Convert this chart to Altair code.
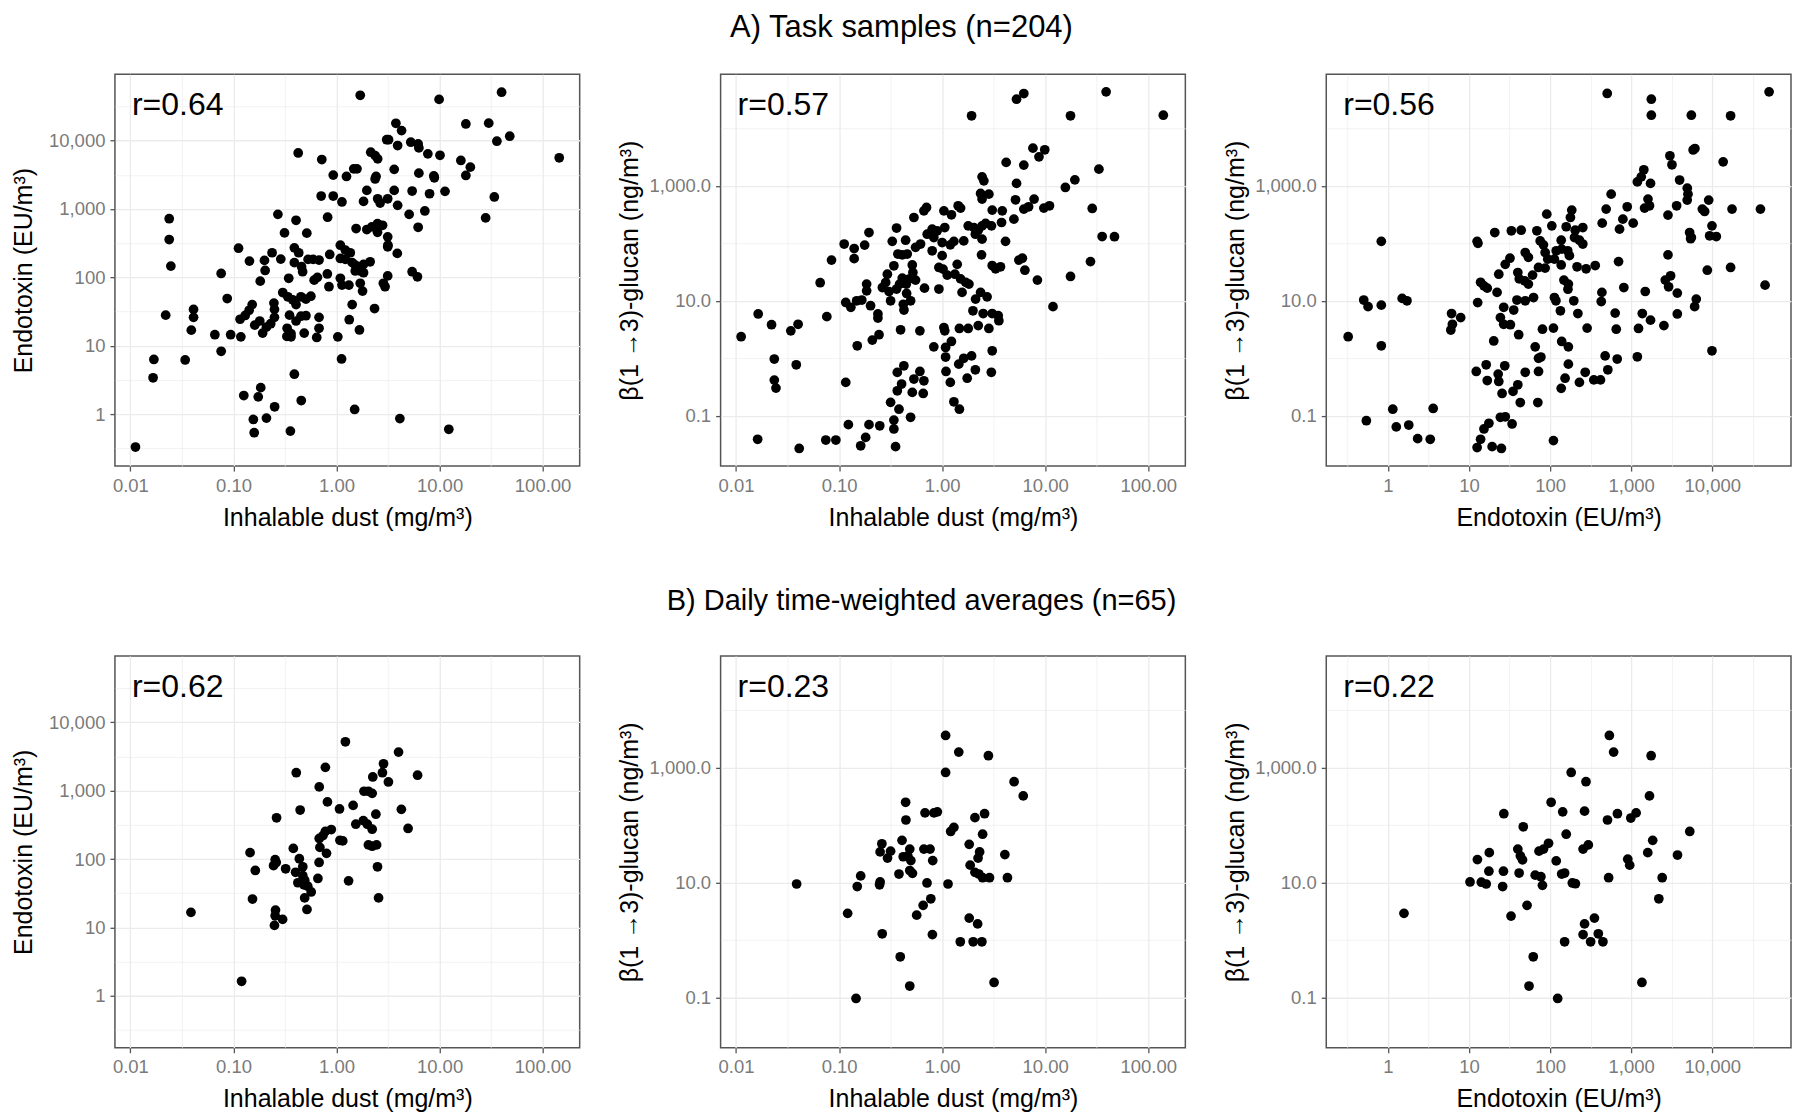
import altair as alt
import pandas as pd

# ---------------- A) Task samples (n=204) ----------------
# Panel A1: inhalable dust (x) vs endotoxin (y)
task_a1_dust = [
    1.70, 9.9, 40, 3.77, 4.28, 18, 30, 3.07, 3.2, 3.92,
    5.26, 6.2, 6.3, 48, 36, 7.7, 10.1, 2.15, 2.37, 2.51,
    145, 16.1, 19.9, 18, 1.25, 1.47, 1.58, 2.37, 2.42, 3.63,
    6.3, 8.8, 8.9, 34, 28, 1.97, 3.63, 5.42, 8.0, 11.3,
    1.13, 1.83, 2.51, 2.65, 3.14, 3.92, 5.07, 7.2, 6.2, 1.55,
    1.97, 2.2, 2.5, 2.8, 2.5, 3.14, 3.16, 3.14, 3.89, 1.09,
    1.22, 1.36, 1.09, 1.22, 1.42, 1.52, 1.64, 1.83, 2.12, 1.70,
    1.52, 1.83, 1.09, 1.13, 1.32, 1.70, 1.79, 2.85, 2.96, 3.14,
    1.42, 1.33, 1.67, 2.34, 1.12, 1.5, 4.12, 12.3, 5.42, 6.1,
    0.425, 0.72, 0.93, 0.71, 0.93, 0.82, 0.27, 0.405, 0.313, 0.515,
    0.112, 0.39, 0.43, 0.237, 0.288, 0.2, 0.143, 0.39, 0.458, 0.53,
    0.593, 0.677, 0.86, 0.203, 0.182, 0.076, 0.344, 0.469, 0.607, 0.653,
    0.815, 0.845, 0.301, 0.337, 0.376, 0.452, 0.505, 0.564, 0.405, 0.452,
    0.405, 0.505, 0.35, 0.332, 0.362, 0.33, 0.362, 0.486, 0.677, 0.677,
    0.643, 1.03, 0.116, 0.13, 0.142, 0.152, 0.118, 0.161, 0.18, 0.192,
    0.209, 0.23, 0.25, 0.25, 0.247, 0.066, 0.094, 0.087, 0.076, 0.034,
    0.039, 0.041, 0.041, 0.022, 0.0238, 0.0238, 0.0247, 0.0169, 0.0166, 0.0112,
    0.126, 0.174, 0.184, 0.156, 0.159, 0.209, 0.251, 0.357, 0.39, 0.455,
]
task_a1_endo = [
    46000, 40000, 51000, 17900, 14000, 17500, 18000, 10300, 10300, 8460,
    9460, 8950, 7820, 11600, 9800, 6400, 6100, 6760, 6030, 5410,
    5600, 5120, 4090, 3090, 2990, 3860, 3860, 2750, 2990, 3800,
    3340, 3050, 2860, 1500, 740, 1870, 1870, 1830, 1670, 1810,
    1265, 1290, 1410, 1220, 1410, 1130, 835, 935, 540, 518,
    500, 547, 610, 578, 455, 391, 295, 280, 224, 295,
    250, 229, 189, 183, 164, 151, 143, 155, 169, 124,
    124, 117, 97, 77, 77, 82, 63, 82, 73, 105,
    40, 24, 17, 35, 6.4, 1.17, 0.86, 0.6, 121, 102,
    6600, 5280, 3130, 1545, 1545, 757, 835, 684, 447, 443,
    267, 270, 229, 229, 185, 177, 173, 164, 143, 183,
    183, 179, 216, 126, 88, 114, 97, 121, 91, 100,
    112, 73, 60, 52, 47, 52, 48, 53, 40, 27,
    23, 27.5, 28, 18, 15, 13.7, 13.5, 15.3, 26, 18,
    13.2, 13.5, 24.4, 27.7, 33, 40, 13.5, 20, 23, 15.3,
    18.7, 21, 26, 34, 42, 14.5, 14.5, 49, 8.3, 6.2,
    16.9, 34, 26, 28, 720, 357, 146, 6.3, 3.4, 0.33,
    1.87, 1.79, 2.44, 0.835, 0.535, 0.875, 1.28, 0.565, 3.83, 1.58,
]

# Panel A2: inhalable dust (x) vs beta-glucan (y)
task_a2_dust = [
    0.0112, 0.0164, 0.0221, 0.0235, 0.0235, 0.0244, 0.034, 0.04, 0.0384, 0.0162,
    0.041, 0.0655, 0.076, 0.0844, 0.0743, 0.093, 0.116, 0.123, 0.112, 0.14,
    0.14, 0.177, 0.195, 0.116, 0.13, 0.148, 0.166, 0.185, 0.185, 0.202,
    0.238, 0.238, 0.15, 0.21, 0.244, 0.195, 0.181, 0.162, 0.248, 0.34,
    0.34, 0.353, 0.316, 0.381, 0.494, 0.367, 0.404, 0.425, 0.367, 0.532,
    0.608, 0.665, 0.513, 0.655, 0.395, 0.608, 0.83, 1.04, 1.08, 1.08,
    1.09, 0.532, 0.665, 0.705, 0.361, 0.328, 0.442, 0.372, 0.41, 0.458,
    0.552, 0.617, 0.716, 0.8, 0.83, 0.895, 1.04, 1.0, 0.34, 0.294,
    0.283, 0.263, 0.305, 0.316, 0.361, 0.386, 0.41, 0.449, 0.476, 0.52,
    0.552, 0.513, 0.452, 0.42, 0.426, 0.494, 0.674, 0.93, 0.93, 0.8,
    1.02, 1.12, 1.0, 1.06,
    1.93, 5.27, 6.2, 17.6, 39, 140, 7.6, 8.7, 9.9, 4.18,
    6.2, 33.2, 2.44, 2.54, 5.27, 15.7, 19.4, 2.36, 2.84, 2.44,
    5.15, 7.8, 6.2, 6.9, 9.7, 11, 28.6, 1.43, 1.51, 1.23,
    3.06, 3.83, 1.79, 2.03, 2.24, 2.44, 2.1, 2.64, 3.01, 3.77,
    2.44, 4.12, 4.97, 1.3, 1.62, 1.2, 1.4, 1.33, 1.51, 1.69,
    1.82, 1.56, 2.41, 3.06, 3.3, 3.68, 5.55, 6.0, 6.35, 8.4,
    17.6, 27.5, 35.7, 47, 11.9, 2.11, 2.36, 2.73, 1.99, 2.5,
    3.06, 3.5, 3.55, 2.84, 2.24, 1.79, 1.47, 1.06, 1.23, 1.62,
    1.93, 1.45, 2.1, 1.75, 3.06, 3.0, 1.2, 1.3, 1.47,
]
task_a2_glucan = [
    2.37, 5.9, 3.83, 0.97, 0.417, 0.303, 3.0, 3.9, 0.77, 0.039,
    0.027, 20.6, 5.3, 51, 0.0378, 0.0378, 0.38, 0.07, 97, 81,
    54, 93, 154, 9.35, 7.7, 10, 10.3, 14.9, 19.5, 8.2,
    5.9, 5.0, 1.65, 2.07, 2.57, 0.07, 0.042, 0.030, 0.067, 0.084,
    0.059, 0.029, 0.171, 0.13, 0.094, 0.272, 0.356, 0.74, 0.568, 0.435,
    0.59, 0.406, 0.255, 0.244, 3.13, 3.0, 1.58, 3.43, 1.54, 1.05,
    0.59, 281, 367, 420, 184, 108, 113, 65, 63, 65,
    85, 97, 144, 176, 126, 165, 367, 103, 40.6, 29,
    20.8, 17, 14.5, 10, 16, 19.5, 24.8, 19.5, 23.8, 31,
    22.9, 42, 13.4, 8.7, 6.9, 10, 16.6, 16, 38, 74,
    35.6, 28, 61, 188,
    16500, 32100, 40300, 16500, 43100, 16900, 4520, 3190, 4230, 2550,
    2290, 1950, 1430, 1220, 1100, 935, 1270, 735, 716, 587,
    571, 587, 393, 431, 409, 449, 404, 449, 409, 313,
    378, 367, 201, 188, 169, 201, 144, 221, 201, 230,
    118, 108, 263, 108, 110, 94, 43, 29, 24, 21,
    19.5, 14, 63, 41, 36, 39, 51, 55, 34, 22.9,
    26.5, 48, 131, 130, 7.9, 10.7, 14, 11.7, 6.7, 6.0,
    6.0, 5.5, 4.5, 3.3, 3.7, 3.3, 3.3, 3.0, 1.96, 1.0,
    1.1, 0.79, 0.63, 0.45, 1.35, 0.57, 0.38, 0.175, 0.13,
]

# Panel A3: endotoxin (x) vs beta-glucan (y)
task_a3_endo = [
    0.324, 0.504, 0.57, 0.83, 0.83, 0.83, 1.5, 1.72, 0.543, 1.15,
    1.27, 1.81, 2.33, 3.33, 3.62, 6.1, 6.25, 5.97, 7.9, 12.6,
    12.9, 12.8, 13.9, 15.3, 16.8, 20.8, 23.3, 22.2, 28, 32,
    33.3, 44, 49.4, 54, 40, 41.7, 48.5, 54, 60.8, 62.5,
    49.4, 39, 35.6, 26.8, 24.4, 26.8, 32.4, 20.2, 41, 65.5,
    72, 77, 72, 80.5, 110, 12.3, 16.3, 22.9, 23.3, 27.6,
    49.4, 16.8, 25.6, 34.9, 40, 42.9, 70.6, 24.4, 28, 34,
    17.6, 15.3, 13.9, 12.6, 19.3, 25.1, 110, 91, 105, 68.7,
    75.5, 82.8, 86.9, 93.6, 86.9, 72,
    506, 1770, 1770, 5510, 16800, 50100, 5800, 6100, 3000, 3180,
    13600, 1430, 1330, 1190, 1730, 3950, 4910, 5010, 4900, 1610,
    1460, 1680, 3630, 2840, 7530, 8040, 9020, 17500, 39200, 566,
    491, 439, 893, 789, 718, 1058, 5250, 5510, 5400, 9900,
    9270, 11200, 2840, 8670, 16800, 44700, 698, 811, 435, 427,
    1490, 2630, 3060, 2890, 3700, 6340, 6050, 3700, 2530, 1730,
    1370, 1230, 654, 634, 1190, 672, 515, 477, 9900, 271,
    230, 346, 418, 168, 153, 137, 139, 168, 286, 220,
    196, 134, 113, 118, 148, 168, 166, 278, 360, 215,
    137, 185, 178, 158, 204, 253, 200, 230, 253, 137,
    139, 165, 173, 119, 113,
]
task_a3_glucan = [
    2.37, 10.3, 7.9, 8.4, 108, 1.65, 11, 10, 0.082, 0.13,
    0.064, 0.069, 0.040, 0.039, 0.134, 6.0, 3.9, 3.1, 5.1, 108,
    100, 9.3, 21, 18.2, 16.6, 154, 29, 14, 43, 55,
    165, 169, 69, 57, 31, 24, 22.3, 19.5, 28, 11.4,
    10, 10.3, 6.9, 7.7, 5.1, 3.9, 3.83, 2.0, 2.57, 1.58,
    1.0, 1.05, 0.59, 3.2, 3.35, 0.59, 0.77, 0.53, 0.395, 0.74,
    0.57, 0.41, 0.244, 0.265, 0.346, 0.17, 0.17, 0.094, 0.096, 0.072,
    0.074, 0.059, 0.039, 0.028, 0.029, 0.027, 0.037, 321, 201, 165,
    110, 94, 69, 53, 37, 38,
    40400, 32100, 16900, 16900, 16500, 43100, 4200, 4450, 3330, 2320,
    2610, 1900, 1430, 1170, 1100, 1260, 910, 716, 564, 587,
    409, 449, 449, 309, 393, 358, 564, 393, 393, 716,
    393, 224, 431, 263, 176, 224, 154, 126, 120, 201,
    135, 131, 63, 34, 38, 18.7, 48, 17, 14, 9.7,
    14.5, 22.9, 27.2, 17.5, 13.6, 10.7, 7.9, 5.9, 3.7, 4.6,
    6.0, 3.3, 3.2, 6.1, 1.06, 0.97, 0.63, 1.1, 1.35, 0.57,
    0.38, 0.42, 0.42, 0.79, 0.45, 0.30, 1.96, 1.58, 3.35, 6.0,
    10, 6.7, 11.4, 10, 22.9, 19.5, 15.9, 36, 41, 39,
    42, 378, 281, 194, 169, 188, 126, 113, 97, 113,
    79, 74, 61, 74, 53,
]

# ---------------- B) Daily time-weighted averages (n=65) ----------------
daily_b1_dust = [
    1.22, 4.0, 2.86, 2.79, 6.12, 0.407, 0.78, 2.25, 3.19, 0.68,
    1.85, 2.04, 2.22, 0.817, 1.45, 1.07, 0.444, 4.26, 2.41, 0.262,
    1.82, 1.54, 1.99, 4.95, 2.22, 0.89, 0.78, 0.74, 0.68, 1.08,
    1.15, 2.04, 2.22, 2.45, 0.381, 0.69, 0.80, 0.145, 0.436, 0.471,
    0.254, 0.26, 0.245, 0.678, 0.163, 0.321, 0.401, 2.5, 0.422, 0.471,
    0.491, 0.483, 0.526, 0.568, 0.66, 1.31, 0.491, 0.517, 0.153, 2.56,
    0.256, 0.254, 0.25, 0.30, 0.0387, 0.12,
]
daily_b1_endo = [
    5180, 3660, 2470, 1830, 1680, 1830, 2190, 1585, 1340, 1135,
    980, 980, 914, 685, 608, 540, 521, 533, 452, 401,
    364, 323, 323, 280, 273, 270, 254, 220, 200, 188,
    184, 161, 154, 161, 143, 148, 121, 124, 101, 77,
    97.7, 89, 80, 89, 68, 72, 64, 77, 45, 57,
    49, 42, 40, 33, 52, 48, 27, 18.3, 26, 27,
    17.9, 14.8, 10.7, 13.1, 16.6, 1.63,
]

daily_b2_dust = [
    1.08, 1.45, 2.81, 1.08, 4.99, 6.12, 0.442, 0.682, 0.832, 0.898,
    2.58, 2.08, 0.445, 1.3, 1.21, 2.47, 0.26, 0.25, 0.316, 0.295,
    0.408, 0.485, 0.464, 0.419, 0.497, 0.665, 0.763, 0.81, 1.83, 2.31,
    2.23, 4.06, 1.87, 2.08, 2.27, 2.47, 2.88, 4.3, 0.381, 0.485,
    0.515, 0.162, 0.15, 0.25, 0.247, 0.0387, 0.713, 1.14, 0.776, 0.654,
    0.566, 0.121, 1.83, 2.21, 0.262, 0.804, 1.5, 2.0, 2.43, 0.392,
    0.485, 3.19, 0.146,
]
daily_b2_glucan = [
    3600, 1850, 1600, 820, 566, 320, 248, 162, 162, 169,
    157, 134, 122, 91, 77, 69, 47, 34, 35, 26.5,
    54, 38, 29, 28, 24, 38, 38, 24, 46, 34,
    26.5, 30.5, 20, 15, 14, 12.1, 12.1, 12.1, 14, 16.1,
    14.4, 13, 8.5, 10.2, 9.1, 9.4, 9.8, 9.4, 5.2, 4.0,
    2.7, 2.9, 2.4, 1.9, 1.28, 1.24, 0.93, 0.93, 0.93, 0.51,
    0.158, 0.182, 0.096,
]

daily_b3_endo = [
    538, 607, 1760, 182, 277, 1680, 103, 26.9, 143, 266,
    676, 1150, 989, 510, 46.7, 158, 5270, 1840, 95.7, 40,
    43, 45.7, 73, 83, 255, 296, 1600, 3720, 12.7, 17.8,
    119, 907, 958, 17.6, 26.6, 41.5, 65.5, 77, 139, 151,
    10.3, 14.2, 16.3, 26, 80.5, 188, 205, 527, 2410, 2190,
    52, 1.58, 33, 352, 266, 393, 255, 151, 316, 448,
    62, 55, 1355, 124,
]
daily_b3_glucan = [
    3600, 1850, 1600, 820, 566, 320, 248, 157, 169, 174,
    157, 162, 132, 122, 93, 69, 77, 54, 48, 38,
    29, 24.7, 35, 38, 38, 45, 33, 30, 25, 33,
    23.7, 25.4, 20, 15.7, 15.7, 14.6, 13.4, 12.6, 14, 14.6,
    10.2, 10.1, 9.4, 8.5, 8.9, 9.8, 9.5, 12.1, 12.1, 5.2,
    4.0, 2.9, 2.6, 2.4, 1.9, 1.28, 1.24, 0.93, 0.93, 0.93,
    0.51, 0.158, 0.182, 0.096,
]

correlations = ["r=0.64", "r=0.57", "r=0.56", "r=0.62", "r=0.23", "r=0.22"]

# ---------------- axis definitions ----------------
FONT = "Liberation Sans"
DUST = {"domain": [0.00708, 229.0], "major": [0.01, 0.1, 1, 10, 100],
        "minor": [0.0316227766, 0.316227766, 3.16227766, 31.6227766], "fmt": ",.2f"}
ENDO = {"domain": [0.174, 93300.0], "major": [1, 10, 100, 1000, 10000],
        "minor": [0.316227766, 3.16227766, 31.6227766, 316.227766, 3162.27766, 31622.7766],
        "fmt": ",.0f"}
GLUC = {"domain": [0.01334, 87100.0], "major": [0.1, 10, 1000],
        "minor": [1, 100, 10000], "fmt": ",.1f"}

DUST_TITLE = "Inhalable dust (mg/m³)"
ENDO_TITLE = "Endotoxin (EU/m³)"
GLUC_TITLE = "β(1 →3)-glucan (ng/m³)"

W, H = 465, 392


def make_axis(spec, title, orient):
    test = "indexof([" + ",".join(str(v) for v in spec["major"]) + "], datum.value) >= 0"
    kw = dict(
        values=sorted(spec["major"] + spec["minor"]),
        format=spec["fmt"],
        title=title,
        labelExpr=test + " ? datum.label : ''",
        labelOverlap=False,
        labelFlush=False,
        gridWidth={"condition": {"test": test, "value": 1.3}, "value": 0.65},
        tickOpacity={"condition": {"test": test, "value": 1}, "value": 0},
        titleBaseline="middle",
        labelPadding=5,
    )
    if orient == "bottom":
        kw["titleY"] = 51
    else:
        kw["titleX"] = -91
    return alt.Axis(**kw)


def panel(xs, ys, xspec, yspec, xtitle, ytitle, rlabel):
    df = pd.DataFrame({"x": xs, "y": ys})
    pts = alt.Chart(df).mark_circle(size=95, color="black", opacity=1).encode(
        x=alt.X("x:Q", scale=alt.Scale(type="log", domain=xspec["domain"], nice=False),
                axis=make_axis(xspec, xtitle, "bottom")),
        y=alt.Y("y:Q", scale=alt.Scale(type="log", domain=yspec["domain"], nice=False),
                axis=make_axis(yspec, ytitle, "left")),
    )
    txt = alt.Chart(pd.DataFrame({"label": [rlabel]})).mark_text(
        align="left", baseline="middle", fontSize=32, font=FONT, color="black"
    ).encode(x=alt.value(17), y=alt.value(31), text="label:N")
    return alt.layer(pts, txt).properties(width=W, height=H)


def row_title(text, size, dx, offset):
    return alt.TitleParams(text, anchor="middle", frame="bounds", fontSize=size, font=FONT,
                           fontWeight="normal", color="black", offset=offset, dx=dx)


row_a = alt.hconcat(
    panel(task_a1_dust, task_a1_endo, DUST, ENDO, DUST_TITLE, ENDO_TITLE, correlations[0]),
    panel(task_a2_dust, task_a2_glucan, DUST, GLUC, DUST_TITLE, GLUC_TITLE, correlations[1]),
    panel(task_a3_endo, task_a3_glucan, ENDO, GLUC, ENDO_TITLE, GLUC_TITLE, correlations[2]),
    spacing=141, bounds="flush", title=row_title("A) Task samples (n=204)", 31, 0, 30),
)
row_b = alt.hconcat(
    panel(daily_b1_dust, daily_b1_endo, DUST, ENDO, DUST_TITLE, ENDO_TITLE, correlations[3]),
    panel(daily_b2_dust, daily_b2_glucan, DUST, GLUC, DUST_TITLE, GLUC_TITLE, correlations[4]),
    panel(daily_b3_endo, daily_b3_glucan, ENDO, GLUC, ENDO_TITLE, GLUC_TITLE, correlations[5]),
    spacing=141, bounds="flush",
    title=row_title("B) Daily time-weighted averages (n=65)", 29, 20, 39),
)

chart = alt.vconcat(row_a, row_b, spacing=56).properties(
    padding={"left": 3, "top": 3, "right": 0, "bottom": 0}, background="white"
).configure_view(
    stroke="#555555", strokeWidth=1.5
).configure_axis(
    domain=False, grid=True, gridColor="#EBEBEB",
    tickColor="#555555", tickSize=5, tickWidth=1.3,
    labelColor="#7a7a7a", labelFont=FONT, labelFontSize=18.5,
    titleFont=FONT, titleFontSize=25, titleFontWeight="normal", titleColor="black",
)

chart.save("out.html", embed_options={"renderer": "svg", "actions": False})
